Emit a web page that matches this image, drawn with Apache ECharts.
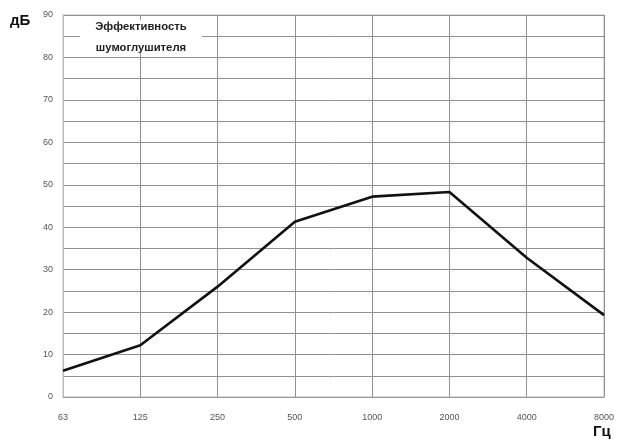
<!DOCTYPE html>
<html>
<head>
<meta charset="utf-8">
<script src="https://cdn.jsdelivr.net/npm/echarts@6/dist/echarts.min.js"></script>
<style>html,body{margin:0;padding:0;background:#fff;}#c{width:618px;height:439px;}</style>
</head>
<body>
<div id="c"></div>
<script>
const categories = ['63', '125', '250', '500', '1000', '2000', '4000', '8000'];
const attenuation = [6.2, 12.2, 26.0, 41.3, 47.2, 48.3, 32.8, 19.3];
const legendText = 'Эффективность\nшумоглушителя';
const yUnit = 'дБ';
const xUnit = 'Гц';

const FONT = 'Liberation Sans, Arial, sans-serif';
const NARROW = 'Liberation Sans Narrow, Liberation Sans, Arial, sans-serif';

const chart = echarts.init(document.getElementById('c'), null, {renderer: 'canvas'});
chart.setOption({
  backgroundColor: '#fff',
  animation: false,
  grid: {left: 63, right: 14, top: 15, bottom: 42, show: true, borderColor: '#bbb', borderWidth: 1},
  graphic: [
    {type: 'rect', shape: {x: 80, y: 20, width: 122, height: 32}, style: {fill: '#fff'}, z: 10},
    {type: 'text', x: 141, y: 16.5, z: 11, style: {
      text: legendText, fontFamily: FONT, fontSize: 11.3, fontWeight: 'bold', fill: '#222',
      lineHeight: 21, align: 'center', verticalAlign: 'top'
    }},
    {type: 'text', left: 10, top: 13, style: {text: yUnit, fontFamily: NARROW, fontSize: 15, fontWeight: 'bold', fill: '#111'}},
    {type: 'text', left: 593, top: 424, style: {text: xUnit, fontFamily: NARROW, fontSize: 15, fontWeight: 'bold', fill: '#111'}}
  ],
  xAxis: {
    type: 'category',
    data: categories,
    boundaryGap: false,
    axisLine: {show: true, lineStyle: {color: '#999', width: 1}},
    axisTick: {show: false},
    axisLabel: {color: '#555', fontSize: 9, fontFamily: FONT, margin: 16, interval: 0},
    splitLine: {show: true, lineStyle: {color: '#919191', width: 1}}
  },
  yAxis: {
    type: 'value',
    min: 0, max: 90, interval: 5,
    axisLine: {show: true, lineStyle: {color: '#bbb', width: 1}},
    axisTick: {show: false},
    axisLabel: {
      color: '#555', fontSize: 9, fontFamily: FONT, margin: 10,
      padding: [10, 0, 0, 0],
      formatter: function (v) { return v % 10 === 0 ? String(v) : ''; }
    },
    splitLine: {show: true, lineStyle: {color: '#919191', width: 1}}
  },
  series: [{
    type: 'line',
    data: attenuation,
    symbol: 'none',
    lineStyle: {color: '#111', width: 2.6},
    z: 5
  }]
});
</script>
</body>
</html>
